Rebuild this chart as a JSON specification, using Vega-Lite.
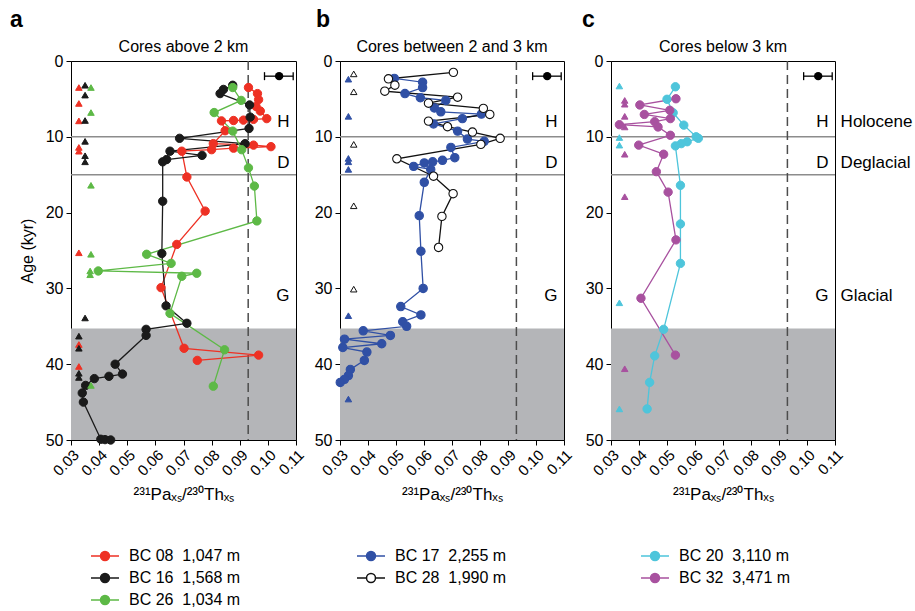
{
  "$schema": "https://vega.github.io/schema/vega-lite/v6.json",
  "padding": {"left": 9, "top": 8, "right": 0, "bottom": 0},
  "datasets": {
    "cores": [
      {"c": "08", "s": "BC 08\u00a0\u00a01,047 m"},
      {"c": "16", "s": "BC 16\u00a0\u00a01,568 m"},
      {"c": "26", "s": "BC 26\u00a0\u00a01,034 m"},
      {"c": "17", "s": "BC 17\u00a0\u00a02,255 m"},
      {"c": "28", "s": "BC 28\u00a0\u00a01,990 m"},
      {"c": "20", "s": "BC 20\u00a0\u00a03,110 m"},
      {"c": "32", "s": "BC 32\u00a0\u00a03,471 m"}
    ],
    "err": [
      {"p": "a", "mid": 0.104, "lo": 0.0988, "hi": 0.109, "age": 2},
      {"p": "b", "mid": 0.104, "lo": 0.0988, "hi": 0.109, "age": 2},
      {"p": "c", "mid": 0.104, "lo": 0.0988, "hi": 0.109, "age": 2}
    ],
    "zones": [
      {"p": "a", "z": "H", "age": 8.0}, {"p": "a", "z": "D", "age": 13.5}, {"p": "a", "z": "G", "age": 31.0},
      {"p": "b", "z": "H", "age": 8.0}, {"p": "b", "z": "D", "age": 13.5}, {"p": "b", "z": "G", "age": 31.0},
      {"p": "c", "z": "H", "age": 8.0}, {"p": "c", "z": "D", "age": 13.5}, {"p": "c", "z": "G", "age": 31.0}
    ],
    "epochs": [
      {"n": "Holocene", "age": 8.0}, {"n": "Deglacial", "age": 13.5}, {"n": "Glacial", "age": 31.0}
    ],
    "pts": [
      {"p":"a","c":"08","k":"c","age":3.5,"r":0.0931},
      {"p":"a","c":"08","k":"c","age":4.3,"r":0.0963},
      {"p":"a","c":"08","k":"c","age":5.1,"r":0.0967},
      {"p":"a","c":"08","k":"c","age":6.0,"r":0.0958},
      {"p":"a","c":"08","k":"c","age":6.6,"r":0.0973},
      {"p":"a","c":"08","k":"c","age":7.6,"r":0.0996},
      {"p":"a","c":"08","k":"c","age":7.7,"r":0.0949},
      {"p":"a","c":"08","k":"c","age":7.8,"r":0.0913},
      {"p":"a","c":"08","k":"c","age":7.85,"r":0.0878},
      {"p":"a","c":"08","k":"c","age":7.9,"r":0.0835},
      {"p":"a","c":"08","k":"c","age":9.2,"r":0.0848},
      {"p":"a","c":"08","k":"c","age":10.9,"r":0.0806},
      {"p":"a","c":"08","k":"c","age":11.1,"r":0.0949},
      {"p":"a","c":"08","k":"c","age":11.3,"r":0.1011},
      {"p":"a","c":"08","k":"c","age":11.5,"r":0.0878},
      {"p":"a","c":"08","k":"c","age":11.7,"r":0.0800},
      {"p":"a","c":"08","k":"c","age":11.9,"r":0.0694},
      {"p":"a","c":"08","k":"c","age":15.3,"r":0.0712},
      {"p":"a","c":"08","k":"c","age":19.8,"r":0.0777},
      {"p":"a","c":"08","k":"c","age":24.2,"r":0.0676},
      {"p":"a","c":"08","k":"c","age":29.9,"r":0.0620},
      {"p":"a","c":"08","k":"c","age":37.9,"r":0.0702},
      {"p":"a","c":"08","k":"c","age":38.8,"r":0.0967},
      {"p":"a","c":"08","k":"c","age":39.5,"r":0.0749},
      {"p":"a","c":"16","k":"c","age":3.2,"r":0.0875},
      {"p":"a","c":"16","k":"c","age":3.75,"r":0.0842},
      {"p":"a","c":"16","k":"c","age":4.3,"r":0.0830},
      {"p":"a","c":"16","k":"c","age":5.8,"r":0.0935},
      {"p":"a","c":"16","k":"c","age":7.4,"r":0.0937},
      {"p":"a","c":"16","k":"c","age":8.9,"r":0.0933},
      {"p":"a","c":"16","k":"c","age":10.2,"r":0.0686},
      {"p":"a","c":"16","k":"c","age":10.9,"r":0.0919},
      {"p":"a","c":"16","k":"c","age":11.9,"r":0.0652},
      {"p":"a","c":"16","k":"c","age":12.45,"r":0.0766},
      {"p":"a","c":"16","k":"c","age":13.0,"r":0.0640},
      {"p":"a","c":"16","k":"c","age":13.3,"r":0.0626},
      {"p":"a","c":"16","k":"c","age":18.5,"r":0.0626},
      {"p":"a","c":"16","k":"c","age":25.4,"r":0.0623},
      {"p":"a","c":"16","k":"c","age":32.3,"r":0.0638},
      {"p":"a","c":"16","k":"c","age":34.6,"r":0.0712},
      {"p":"a","c":"16","k":"c","age":35.4,"r":0.0567},
      {"p":"a","c":"16","k":"c","age":36.2,"r":0.0567},
      {"p":"a","c":"16","k":"c","age":40.0,"r":0.0457},
      {"p":"a","c":"16","k":"c","age":41.3,"r":0.0483},
      {"p":"a","c":"16","k":"c","age":41.6,"r":0.0435},
      {"p":"a","c":"16","k":"c","age":41.9,"r":0.0383},
      {"p":"a","c":"16","k":"c","age":42.8,"r":0.0352},
      {"p":"a","c":"16","k":"c","age":43.8,"r":0.0340},
      {"p":"a","c":"16","k":"c","age":45.0,"r":0.0344},
      {"p":"a","c":"16","k":"c","age":49.9,"r":0.0406},
      {"p":"a","c":"16","k":"c","age":49.95,"r":0.0421},
      {"p":"a","c":"16","k":"c","age":50.0,"r":0.0441},
      {"p":"a","c":"26","k":"c","age":3.5,"r":0.0875},
      {"p":"a","c":"26","k":"c","age":5.2,"r":0.0905},
      {"p":"a","c":"26","k":"c","age":6.8,"r":0.0809},
      {"p":"a","c":"26","k":"c","age":9.25,"r":0.0875},
      {"p":"a","c":"26","k":"c","age":11.7,"r":0.0907},
      {"p":"a","c":"26","k":"c","age":14.1,"r":0.0931},
      {"p":"a","c":"26","k":"c","age":16.5,"r":0.0952},
      {"p":"a","c":"26","k":"c","age":21.1,"r":0.0961},
      {"p":"a","c":"26","k":"c","age":25.5,"r":0.0569},
      {"p":"a","c":"26","k":"c","age":26.7,"r":0.0656},
      {"p":"a","c":"26","k":"c","age":27.7,"r":0.0397},
      {"p":"a","c":"26","k":"c","age":28.0,"r":0.0747},
      {"p":"a","c":"26","k":"c","age":28.4,"r":0.0694},
      {"p":"a","c":"26","k":"c","age":33.3,"r":0.0652},
      {"p":"a","c":"26","k":"c","age":38.1,"r":0.0846},
      {"p":"a","c":"26","k":"c","age":42.9,"r":0.0806},
      {"p":"a","c":"08","k":"t","age":3.5,"r":0.0328},
      {"p":"a","c":"08","k":"t","age":5.6,"r":0.0328},
      {"p":"a","c":"08","k":"t","age":7.9,"r":0.0328},
      {"p":"a","c":"08","k":"t","age":11.4,"r":0.0328},
      {"p":"a","c":"08","k":"t","age":11.9,"r":0.0328},
      {"p":"a","c":"08","k":"t","age":25.3,"r":0.0328},
      {"p":"a","c":"08","k":"t","age":37.4,"r":0.0328},
      {"p":"a","c":"08","k":"t","age":40.3,"r":0.0328},
      {"p":"a","c":"16","k":"t","age":3.2,"r":0.035},
      {"p":"a","c":"16","k":"t","age":4.5,"r":0.035},
      {"p":"a","c":"16","k":"t","age":7.85,"r":0.035},
      {"p":"a","c":"16","k":"t","age":10.6,"r":0.035},
      {"p":"a","c":"16","k":"t","age":12.5,"r":0.035},
      {"p":"a","c":"16","k":"t","age":13.3,"r":0.035},
      {"p":"a","c":"16","k":"t","age":33.9,"r":0.035},
      {"p":"a","c":"16","k":"t","age":36.3,"r":0.0328},
      {"p":"a","c":"16","k":"t","age":37.9,"r":0.0328},
      {"p":"a","c":"16","k":"t","age":41.2,"r":0.0328},
      {"p":"a","c":"16","k":"t","age":41.75,"r":0.0328},
      {"p":"a","c":"26","k":"t","age":3.5,"r":0.0371},
      {"p":"a","c":"26","k":"t","age":6.8,"r":0.0371},
      {"p":"a","c":"26","k":"t","age":16.4,"r":0.0371},
      {"p":"a","c":"26","k":"t","age":25.5,"r":0.0371},
      {"p":"a","c":"26","k":"t","age":27.7,"r":0.0368},
      {"p":"a","c":"26","k":"t","age":28.2,"r":0.0368},
      {"p":"a","c":"26","k":"t","age":42.8,"r":0.0371},
      {"p":"b","c":"17","k":"c","age":2.3,"r":0.0494},
      {"p":"b","c":"17","k":"c","age":2.8,"r":0.0595},
      {"p":"b","c":"17","k":"c","age":3.5,"r":0.0595},
      {"p":"b","c":"17","k":"c","age":4.3,"r":0.0532},
      {"p":"b","c":"17","k":"c","age":4.85,"r":0.0587},
      {"p":"b","c":"17","k":"c","age":5.2,"r":0.0678},
      {"p":"b","c":"17","k":"c","age":6.2,"r":0.0637},
      {"p":"b","c":"17","k":"c","age":6.7,"r":0.0660},
      {"p":"b","c":"17","k":"c","age":7.0,"r":0.0805},
      {"p":"b","c":"17","k":"c","age":7.6,"r":0.0737},
      {"p":"b","c":"17","k":"c","age":8.3,"r":0.0634},
      {"p":"b","c":"17","k":"c","age":9.25,"r":0.0720},
      {"p":"b","c":"17","k":"c","age":10.3,"r":0.0755},
      {"p":"b","c":"17","k":"c","age":10.6,"r":0.0815},
      {"p":"b","c":"17","k":"c","age":11.4,"r":0.0696},
      {"p":"b","c":"17","k":"c","age":12.75,"r":0.0710},
      {"p":"b","c":"17","k":"c","age":13.1,"r":0.0666},
      {"p":"b","c":"17","k":"c","age":13.3,"r":0.0631},
      {"p":"b","c":"17","k":"c","age":13.45,"r":0.0601},
      {"p":"b","c":"17","k":"c","age":13.9,"r":0.0563},
      {"p":"b","c":"17","k":"c","age":14.3,"r":0.0624},
      {"p":"b","c":"17","k":"c","age":16.0,"r":0.0601},
      {"p":"b","c":"17","k":"c","age":20.4,"r":0.0583},
      {"p":"b","c":"17","k":"c","age":25.1,"r":0.0589},
      {"p":"b","c":"17","k":"c","age":30.0,"r":0.0597},
      {"p":"b","c":"17","k":"c","age":32.4,"r":0.0517},
      {"p":"b","c":"17","k":"c","age":33.5,"r":0.0589},
      {"p":"b","c":"17","k":"c","age":34.4,"r":0.0524},
      {"p":"b","c":"17","k":"c","age":35.0,"r":0.0538},
      {"p":"b","c":"17","k":"c","age":35.6,"r":0.0383},
      {"p":"b","c":"17","k":"c","age":36.2,"r":0.0480},
      {"p":"b","c":"17","k":"c","age":36.7,"r":0.0316},
      {"p":"b","c":"17","k":"c","age":37.3,"r":0.0449},
      {"p":"b","c":"17","k":"c","age":37.8,"r":0.0310},
      {"p":"b","c":"17","k":"c","age":38.4,"r":0.0396},
      {"p":"b","c":"17","k":"c","age":39.5,"r":0.0387},
      {"p":"b","c":"17","k":"c","age":40.7,"r":0.0337},
      {"p":"b","c":"17","k":"c","age":41.5,"r":0.0330},
      {"p":"b","c":"17","k":"c","age":42.0,"r":0.0316},
      {"p":"b","c":"17","k":"c","age":42.4,"r":0.0301},
      {"p":"b","c":"28","k":"c","age":1.5,"r":0.0705},
      {"p":"b","c":"28","k":"c","age":2.35,"r":0.0473},
      {"p":"b","c":"28","k":"c","age":3.19,"r":0.0496},
      {"p":"b","c":"28","k":"c","age":3.98,"r":0.0460},
      {"p":"b","c":"28","k":"c","age":4.77,"r":0.0720},
      {"p":"b","c":"28","k":"c","age":5.56,"r":0.0616},
      {"p":"b","c":"28","k":"c","age":6.25,"r":0.0812},
      {"p":"b","c":"28","k":"c","age":7.05,"r":0.0835},
      {"p":"b","c":"28","k":"c","age":7.93,"r":0.0616},
      {"p":"b","c":"28","k":"c","age":8.67,"r":0.0684},
      {"p":"b","c":"28","k":"c","age":9.38,"r":0.0773},
      {"p":"b","c":"28","k":"c","age":10.2,"r":0.0872},
      {"p":"b","c":"28","k":"c","age":11.0,"r":0.0803},
      {"p":"b","c":"28","k":"c","age":12.9,"r":0.0503},
      {"p":"b","c":"28","k":"c","age":15.2,"r":0.0634},
      {"p":"b","c":"28","k":"c","age":17.5,"r":0.0704},
      {"p":"b","c":"28","k":"c","age":20.5,"r":0.0664},
      {"p":"b","c":"28","k":"c","age":24.6,"r":0.0652},
      {"p":"b","c":"17","k":"t","age":2.4,"r":0.033},
      {"p":"b","c":"17","k":"t","age":7.3,"r":0.033},
      {"p":"b","c":"17","k":"t","age":12.85,"r":0.033},
      {"p":"b","c":"17","k":"t","age":13.3,"r":0.033},
      {"p":"b","c":"17","k":"t","age":14.3,"r":0.033},
      {"p":"b","c":"17","k":"t","age":33.6,"r":0.033},
      {"p":"b","c":"17","k":"t","age":44.6,"r":0.033},
      {"p":"b","c":"28","k":"t","age":1.7,"r":0.0349},
      {"p":"b","c":"28","k":"t","age":4.06,"r":0.0349},
      {"p":"b","c":"28","k":"t","age":11.0,"r":0.0349},
      {"p":"b","c":"28","k":"t","age":19.1,"r":0.0349},
      {"p":"b","c":"28","k":"t","age":30.1,"r":0.0349},
      {"p":"c","c":"20","k":"c","age":3.4,"r":0.0530},
      {"p":"c","c":"20","k":"c","age":5.05,"r":0.0500},
      {"p":"c","c":"20","k":"c","age":6.83,"r":0.0522},
      {"p":"c","c":"20","k":"c","age":8.46,"r":0.0560},
      {"p":"c","c":"20","k":"c","age":10.0,"r":0.0604},
      {"p":"c","c":"20","k":"c","age":10.2,"r":0.0612},
      {"p":"c","c":"20","k":"c","age":10.65,"r":0.0572},
      {"p":"c","c":"20","k":"c","age":10.9,"r":0.0551},
      {"p":"c","c":"20","k":"c","age":11.2,"r":0.0530},
      {"p":"c","c":"20","k":"c","age":16.4,"r":0.0548},
      {"p":"c","c":"20","k":"c","age":21.5,"r":0.0548},
      {"p":"c","c":"20","k":"c","age":26.7,"r":0.0548},
      {"p":"c","c":"20","k":"c","age":35.4,"r":0.0488},
      {"p":"c","c":"20","k":"c","age":38.9,"r":0.0456},
      {"p":"c","c":"20","k":"c","age":42.4,"r":0.0438},
      {"p":"c","c":"20","k":"c","age":45.9,"r":0.0429},
      {"p":"c","c":"32","k":"c","age":4.98,"r":0.0532},
      {"p":"c","c":"32","k":"c","age":5.8,"r":0.0403},
      {"p":"c","c":"32","k":"c","age":6.5,"r":0.0510},
      {"p":"c","c":"32","k":"c","age":7.05,"r":0.0419},
      {"p":"c","c":"32","k":"c","age":7.6,"r":0.0512},
      {"p":"c","c":"32","k":"c","age":8.0,"r":0.0456},
      {"p":"c","c":"32","k":"c","age":8.4,"r":0.0330},
      {"p":"c","c":"32","k":"c","age":8.7,"r":0.0468},
      {"p":"c","c":"32","k":"c","age":9.8,"r":0.0512},
      {"p":"c","c":"32","k":"c","age":11.1,"r":0.0399},
      {"p":"c","c":"32","k":"c","age":12.3,"r":0.0488},
      {"p":"c","c":"32","k":"c","age":14.6,"r":0.0462},
      {"p":"c","c":"32","k":"c","age":17.3,"r":0.0504},
      {"p":"c","c":"32","k":"c","age":23.6,"r":0.0532},
      {"p":"c","c":"32","k":"c","age":31.3,"r":0.0407},
      {"p":"c","c":"32","k":"c","age":38.8,"r":0.0530},
      {"p":"c","c":"20","k":"t","age":3.3,"r":0.033},
      {"p":"c","c":"20","k":"t","age":10.1,"r":0.033},
      {"p":"c","c":"20","k":"t","age":11.1,"r":0.033},
      {"p":"c","c":"20","k":"t","age":31.9,"r":0.033},
      {"p":"c","c":"20","k":"t","age":45.9,"r":0.033},
      {"p":"c","c":"32","k":"t","age":5.2,"r":0.0349},
      {"p":"c","c":"32","k":"t","age":5.7,"r":0.0349},
      {"p":"c","c":"32","k":"t","age":7.3,"r":0.0349},
      {"p":"c","c":"32","k":"t","age":8.7,"r":0.0349},
      {"p":"c","c":"32","k":"t","age":12.3,"r":0.0349},
      {"p":"c","c":"32","k":"t","age":17.9,"r":0.0349},
      {"p":"c","c":"32","k":"t","age":40.6,"r":0.0349}
    ]
  },
  "spacing": 5,
  "resolve": {
    "scale": {"x": "independent", "y": "independent", "stroke": "independent", "fill": "independent"},
    "legend": {"stroke": "independent", "fill": "independent"}
  },
  "hconcat": [
    {
      "width": 225, "height": 379,
      "title": {"text": "a", "dx": -61},
      "data": {"name": "pts"},
      "transform": [
        {"filter": "datum.p == 'a'"},
        {"lookup": "c", "from": {"data": {"name": "cores"}, "key": "c", "fields": ["s"]}}
      ],
      "layer": [
        {"data": {"values": [{}]}, "mark": {"type": "rect", "color": "#b4b5b8"},
         "encoding": {"y": {"datum": 35.3, "type": "quantitative", "scale": {"domain": [0, 50], "reverse": true, "nice": false, "zero": false}, "axis": {"title": "Age (kyr)", "values": [0, 10, 20, 30, 40, 50]}}, "y2": {"datum": 50}}},
        {"data": {"values": [{"age": 10}, {"age": 15}]}, "mark": {"type": "rule", "color": "#8c8c8c", "strokeWidth": 1.5},
         "encoding": {"y": {"field": "age", "type": "quantitative", "scale": {"domain": [0, 50], "reverse": true, "nice": false, "zero": false}, "axis": {"title": "Age (kyr)", "values": [0, 10, 20, 30, 40, 50]}}}},
        {"data": {"values": [{}]}, "mark": {"type": "rule", "color": "#4d4d4d", "strokeWidth": 1.5, "strokeDash": [9, 5]},
         "encoding": {"x": {"datum": 0.093, "type": "quantitative", "scale": {"domain": [0.03, 0.11], "nice": false, "zero": false}, "axis": {"title": "²³¹Paₓₛ/²³⁰Thₓₛ"}}}},
        {"transform": [{"filter": "datum.k == 'c'"}], "mark": {"type": "line", "strokeWidth": 1.3},
         "encoding": {
           "x": {"field": "r", "type": "quantitative", "scale": {"domain": [0.03, 0.11], "nice": false, "zero": false}, "axis": {"title": "²³¹Paₓₛ/²³⁰Thₓₛ"}},
           "y": {"field": "age", "type": "quantitative", "scale": {"domain": [0, 50], "reverse": true, "nice": false, "zero": false}, "axis": {"title": "Age (kyr)", "values": [0, 10, 20, 30, 40, 50]}},
           "stroke": {"field": "s", "type": "nominal", "scale": {"domain": ["BC 08\u00a0\u00a01,047 m", "BC 16\u00a0\u00a01,568 m", "BC 26\u00a0\u00a01,034 m"], "range": ["#ee3124", "#1a1a1a", "#5db946"]}, "legend": {"title": null, "orient": "none", "legendX": 26, "legendY": 487}},
           "order": {"field": "age", "type": "quantitative"}
         }},
        {"transform": [{"filter": "datum.k == 'c'"}], "mark": {"type": "point", "shape": "circle", "filled": true, "size": 70, "strokeWidth": 1, "opacity": 1},
         "encoding": {
           "x": {"field": "r", "type": "quantitative"},
           "y": {"field": "age", "type": "quantitative"},
           "stroke": {"field": "s", "type": "nominal"},
           "fill": {"field": "s", "type": "nominal", "scale": {"domain": ["BC 08\u00a0\u00a01,047 m", "BC 16\u00a0\u00a01,568 m", "BC 26\u00a0\u00a01,034 m"], "range": ["#ee3124", "#1a1a1a", "#5db946"]}, "legend": {"title": null, "orient": "none", "legendX": 26, "legendY": 487}}
         }},
        {"transform": [{"filter": "datum.k == 't'"}], "mark": {"type": "point", "shape": "triangle-up", "filled": true, "size": 42, "strokeWidth": 1, "opacity": 1},
         "encoding": {
           "x": {"field": "r", "type": "quantitative"},
           "y": {"field": "age", "type": "quantitative"},
           "stroke": {"field": "s", "type": "nominal"},
           "fill": {"field": "s", "type": "nominal"}
         }},
        {"data": {"name": "err"}, "transform": [{"filter": "datum.p == 'a'"}], "mark": {"type": "rule", "color": "#000", "strokeWidth": 1.3},
         "encoding": {"x": {"field": "lo", "type": "quantitative"}, "x2": {"field": "hi"}, "y": {"field": "age", "type": "quantitative"}}},
        {"data": {"name": "err"}, "transform": [{"filter": "datum.p == 'a'"}], "mark": {"type": "point", "shape": "M0,-1L0,1", "size": 64, "filled": false, "color": "#000", "strokeWidth": 1.3, "opacity": 1},
         "encoding": {"x": {"field": "lo", "type": "quantitative"}, "y": {"field": "age", "type": "quantitative"}}},
        {"data": {"name": "err"}, "transform": [{"filter": "datum.p == 'a'"}], "mark": {"type": "point", "shape": "M0,-1L0,1", "size": 64, "filled": false, "color": "#000", "strokeWidth": 1.3, "opacity": 1},
         "encoding": {"x": {"field": "hi", "type": "quantitative"}, "y": {"field": "age", "type": "quantitative"}}},
        {"data": {"name": "err"}, "transform": [{"filter": "datum.p == 'a'"}], "mark": {"type": "point", "shape": "circle", "size": 70, "filled": true, "color": "#000", "opacity": 1},
         "encoding": {"x": {"field": "mid", "type": "quantitative"}, "y": {"field": "age", "type": "quantitative"}}},
        {"data": {"name": "zones"}, "transform": [{"filter": "datum.p == 'a'"}], "mark": {"type": "text", "align": "right", "baseline": "middle", "fontSize": 17, "color": "#000"},
         "encoding": {"x": {"datum": 0.1077, "type": "quantitative"}, "y": {"field": "age", "type": "quantitative"}, "text": {"field": "z"}}},
        {"data": {"values": [{}]}, "mark": {"type": "text", "text": "Cores above 2 km", "fontSize": 16, "align": "center", "baseline": "middle", "color": "#000"},
         "encoding": {"x": {"datum": 0.07, "type": "quantitative"}, "y": {"datum": -1.8, "type": "quantitative"}}}
      ]
    },
    {
      "width": 224, "height": 379,
      "title": {"text": "b", "dx": -24},
      "data": {"name": "pts"},
      "transform": [
        {"filter": "datum.p == 'b'"},
        {"lookup": "c", "from": {"data": {"name": "cores"}, "key": "c", "fields": ["s"]}}
      ],
      "layer": [
        {"data": {"values": [{}]}, "mark": {"type": "rect", "color": "#b4b5b8"},
         "encoding": {"y": {"datum": 35.3, "type": "quantitative", "scale": {"domain": [0, 50], "reverse": true, "nice": false, "zero": false}, "axis": {"title": null, "values": [0, 10, 20, 30, 40, 50]}}, "y2": {"datum": 50}}},
        {"data": {"values": [{"age": 10}, {"age": 15}]}, "mark": {"type": "rule", "color": "#8c8c8c", "strokeWidth": 1.5},
         "encoding": {"y": {"field": "age", "type": "quantitative", "scale": {"domain": [0, 50], "reverse": true, "nice": false, "zero": false}, "axis": {"title": null, "values": [0, 10, 20, 30, 40, 50]}}}},
        {"data": {"values": [{}]}, "mark": {"type": "rule", "color": "#4d4d4d", "strokeWidth": 1.5, "strokeDash": [9, 5]},
         "encoding": {"x": {"datum": 0.093, "type": "quantitative", "scale": {"domain": [0.03, 0.11], "nice": false, "zero": false}, "axis": {"title": "²³¹Paₓₛ/²³⁰Thₓₛ"}}}},
        {"transform": [{"filter": "datum.k == 'c'"}], "mark": {"type": "line", "strokeWidth": 1.3},
         "encoding": {
           "x": {"field": "r", "type": "quantitative", "scale": {"domain": [0.03, 0.11], "nice": false, "zero": false}, "axis": {"title": "²³¹Paₓₛ/²³⁰Thₓₛ"}},
           "y": {"field": "age", "type": "quantitative", "scale": {"domain": [0, 50], "reverse": true, "nice": false, "zero": false}, "axis": {"title": null, "values": [0, 10, 20, 30, 40, 50]}},
           "stroke": {"field": "s", "type": "nominal", "scale": {"domain": ["BC 17\u00a0\u00a02,255 m", "BC 28\u00a0\u00a01,990 m"], "range": ["#3050a5", "#111111"]}, "legend": {"title": null, "orient": "none", "legendX": 23, "legendY": 487}},
           "order": {"field": "age", "type": "quantitative"}
         }},
        {"transform": [{"filter": "datum.k == 'c'"}], "mark": {"type": "point", "shape": "circle", "filled": true, "size": 70, "strokeWidth": 1.1, "opacity": 1},
         "encoding": {
           "x": {"field": "r", "type": "quantitative"},
           "y": {"field": "age", "type": "quantitative"},
           "stroke": {"field": "s", "type": "nominal"},
           "fill": {"field": "s", "type": "nominal", "scale": {"domain": ["BC 17\u00a0\u00a02,255 m", "BC 28\u00a0\u00a01,990 m"], "range": ["#3050a5", "#ffffff"]}, "legend": {"title": null, "orient": "none", "legendX": 23, "legendY": 487}}
         }},
        {"transform": [{"filter": "datum.k == 't'"}], "mark": {"type": "point", "shape": "triangle-up", "filled": true, "size": 42, "strokeWidth": 1, "opacity": 1},
         "encoding": {
           "x": {"field": "r", "type": "quantitative"},
           "y": {"field": "age", "type": "quantitative"},
           "stroke": {"field": "s", "type": "nominal"},
           "fill": {"field": "s", "type": "nominal"}
         }},
        {"data": {"name": "err"}, "transform": [{"filter": "datum.p == 'b'"}], "mark": {"type": "rule", "color": "#000", "strokeWidth": 1.3},
         "encoding": {"x": {"field": "lo", "type": "quantitative"}, "x2": {"field": "hi"}, "y": {"field": "age", "type": "quantitative"}}},
        {"data": {"name": "err"}, "transform": [{"filter": "datum.p == 'b'"}], "mark": {"type": "point", "shape": "M0,-1L0,1", "size": 64, "filled": false, "color": "#000", "strokeWidth": 1.3, "opacity": 1},
         "encoding": {"x": {"field": "lo", "type": "quantitative"}, "y": {"field": "age", "type": "quantitative"}}},
        {"data": {"name": "err"}, "transform": [{"filter": "datum.p == 'b'"}], "mark": {"type": "point", "shape": "M0,-1L0,1", "size": 64, "filled": false, "color": "#000", "strokeWidth": 1.3, "opacity": 1},
         "encoding": {"x": {"field": "hi", "type": "quantitative"}, "y": {"field": "age", "type": "quantitative"}}},
        {"data": {"name": "err"}, "transform": [{"filter": "datum.p == 'b'"}], "mark": {"type": "point", "shape": "circle", "size": 70, "filled": true, "color": "#000", "opacity": 1},
         "encoding": {"x": {"field": "mid", "type": "quantitative"}, "y": {"field": "age", "type": "quantitative"}}},
        {"data": {"name": "zones"}, "transform": [{"filter": "datum.p == 'b'"}], "mark": {"type": "text", "align": "right", "baseline": "middle", "fontSize": 17, "color": "#000"},
         "encoding": {"x": {"datum": 0.1077, "type": "quantitative"}, "y": {"field": "age", "type": "quantitative"}, "text": {"field": "z"}}},
        {"data": {"values": [{}]}, "mark": {"type": "text", "text": "Cores between 2 and 3 km", "fontSize": 16, "align": "center", "baseline": "middle", "color": "#000"},
         "encoding": {"x": {"datum": 0.07, "type": "quantitative"}, "y": {"datum": -1.8, "type": "quantitative"}}}
      ]
    },
    {
      "width": 224, "height": 379,
      "title": {"text": "c", "dx": -29},
      "data": {"name": "pts"},
      "transform": [
        {"filter": "datum.p == 'c'"},
        {"lookup": "c", "from": {"data": {"name": "cores"}, "key": "c", "fields": ["s"]}}
      ],
      "layer": [
        {"data": {"values": [{}]}, "mark": {"type": "rect", "color": "#b4b5b8"},
         "encoding": {"y": {"datum": 35.3, "type": "quantitative", "scale": {"domain": [0, 50], "reverse": true, "nice": false, "zero": false}, "axis": {"title": null, "values": [0, 10, 20, 30, 40, 50]}}, "y2": {"datum": 50}}},
        {"data": {"values": [{"age": 10}, {"age": 15}]}, "mark": {"type": "rule", "color": "#8c8c8c", "strokeWidth": 1.5},
         "encoding": {"y": {"field": "age", "type": "quantitative", "scale": {"domain": [0, 50], "reverse": true, "nice": false, "zero": false}, "axis": {"title": null, "values": [0, 10, 20, 30, 40, 50]}}}},
        {"data": {"values": [{}]}, "mark": {"type": "rule", "color": "#4d4d4d", "strokeWidth": 1.5, "strokeDash": [9, 5]},
         "encoding": {"x": {"datum": 0.093, "type": "quantitative", "scale": {"domain": [0.03, 0.11], "nice": false, "zero": false}, "axis": {"title": "²³¹Paₓₛ/²³⁰Thₓₛ"}}}},
        {"transform": [{"filter": "datum.k == 'c'"}], "mark": {"type": "line", "strokeWidth": 1.3},
         "encoding": {
           "x": {"field": "r", "type": "quantitative", "scale": {"domain": [0.03, 0.11], "nice": false, "zero": false}, "axis": {"title": "²³¹Paₓₛ/²³⁰Thₓₛ"}},
           "y": {"field": "age", "type": "quantitative", "scale": {"domain": [0, 50], "reverse": true, "nice": false, "zero": false}, "axis": {"title": null, "values": [0, 10, 20, 30, 40, 50]}},
           "stroke": {"field": "s", "type": "nominal", "scale": {"domain": ["BC 20\u00a0\u00a03,110 m", "BC 32\u00a0\u00a03,471 m"], "range": ["#4ec5db", "#a8519f"]}, "legend": {"title": null, "orient": "none", "legendX": 36, "legendY": 487}},
           "order": {"field": "age", "type": "quantitative"}
         }},
        {"transform": [{"filter": "datum.k == 'c'"}], "mark": {"type": "point", "shape": "circle", "filled": true, "size": 70, "strokeWidth": 1, "opacity": 1},
         "encoding": {
           "x": {"field": "r", "type": "quantitative"},
           "y": {"field": "age", "type": "quantitative"},
           "stroke": {"field": "s", "type": "nominal"},
           "fill": {"field": "s", "type": "nominal", "scale": {"domain": ["BC 20\u00a0\u00a03,110 m", "BC 32\u00a0\u00a03,471 m"], "range": ["#4ec5db", "#a8519f"]}, "legend": {"title": null, "orient": "none", "legendX": 36, "legendY": 487}}
         }},
        {"transform": [{"filter": "datum.k == 't'"}], "mark": {"type": "point", "shape": "triangle-up", "filled": true, "size": 42, "strokeWidth": 1, "opacity": 1},
         "encoding": {
           "x": {"field": "r", "type": "quantitative"},
           "y": {"field": "age", "type": "quantitative"},
           "stroke": {"field": "s", "type": "nominal"},
           "fill": {"field": "s", "type": "nominal"}
         }},
        {"data": {"name": "err"}, "transform": [{"filter": "datum.p == 'c'"}], "mark": {"type": "rule", "color": "#000", "strokeWidth": 1.3},
         "encoding": {"x": {"field": "lo", "type": "quantitative"}, "x2": {"field": "hi"}, "y": {"field": "age", "type": "quantitative"}}},
        {"data": {"name": "err"}, "transform": [{"filter": "datum.p == 'c'"}], "mark": {"type": "point", "shape": "M0,-1L0,1", "size": 64, "filled": false, "color": "#000", "strokeWidth": 1.3, "opacity": 1},
         "encoding": {"x": {"field": "lo", "type": "quantitative"}, "y": {"field": "age", "type": "quantitative"}}},
        {"data": {"name": "err"}, "transform": [{"filter": "datum.p == 'c'"}], "mark": {"type": "point", "shape": "M0,-1L0,1", "size": 64, "filled": false, "color": "#000", "strokeWidth": 1.3, "opacity": 1},
         "encoding": {"x": {"field": "hi", "type": "quantitative"}, "y": {"field": "age", "type": "quantitative"}}},
        {"data": {"name": "err"}, "transform": [{"filter": "datum.p == 'c'"}], "mark": {"type": "point", "shape": "circle", "size": 70, "filled": true, "color": "#000", "opacity": 1},
         "encoding": {"x": {"field": "mid", "type": "quantitative"}, "y": {"field": "age", "type": "quantitative"}}},
        {"data": {"name": "zones"}, "transform": [{"filter": "datum.p == 'c'"}], "mark": {"type": "text", "align": "right", "baseline": "middle", "fontSize": 17, "color": "#000"},
         "encoding": {"x": {"datum": 0.1077, "type": "quantitative"}, "y": {"field": "age", "type": "quantitative"}, "text": {"field": "z"}}},
        {"data": {"name": "epochs"}, "mark": {"type": "text", "align": "left", "baseline": "middle", "fontSize": 17, "color": "#000"},
         "encoding": {"x": {"datum": 0.112, "type": "quantitative"}, "y": {"field": "age", "type": "quantitative"}, "text": {"field": "n"}}},
        {"data": {"values": [{}]}, "mark": {"type": "text", "text": "Cores below 3 km", "fontSize": 16, "align": "center", "baseline": "middle", "color": "#000"},
         "encoding": {"x": {"datum": 0.07, "type": "quantitative"}, "y": {"datum": -1.8, "type": "quantitative"}}}
      ]
    }
  ],
  "config": {
    "font": "Liberation Sans",
    "view": {"stroke": "#000", "strokeWidth": 1},
    "axis": {"grid": false, "domainColor": "#000", "tickColor": "#000", "labelColor": "#000", "titleColor": "#000", "labelFont": "Liberation Sans", "titleFont": "Liberation Sans", "titleFontWeight": "normal", "tickSize": 5, "labelFontSize": 16, "titleFontSize": 16, "labelFlush": false, "labelOverlap": false},
    "axisX": {"values": [0.03, 0.04, 0.05, 0.06, 0.07, 0.08, 0.09, 0.1, 0.11], "format": ".2f", "labelAngle": -45, "labelFontSize": 15, "titleFontSize": 17, "titlePadding": 8},
    "axisY": {"labelPadding": 3, "titlePadding": 10},
    "legend": {"direction": "vertical", "symbolType": "M-2,0L-0.64,0M0.64,0L2,0M-0.64,0A0.64,0.64,0,1,1,0.64,0A0.64,0.64,0,1,1,-0.64,0Z", "symbolSize": 196, "symbolStrokeWidth": 1.5, "labelFontSize": 16, "labelFont": "Liberation Sans", "labelColor": "#000", "labelOffset": 16, "rowPadding": 6, "padding": 0, "labelLimit": 300},
    "title": {"anchor": "start", "frame": "group", "fontSize": 23, "fontWeight": "bold", "font": "Liberation Sans", "color": "#000", "baseline": "alphabetic", "offset": 7.5}
  }
}
